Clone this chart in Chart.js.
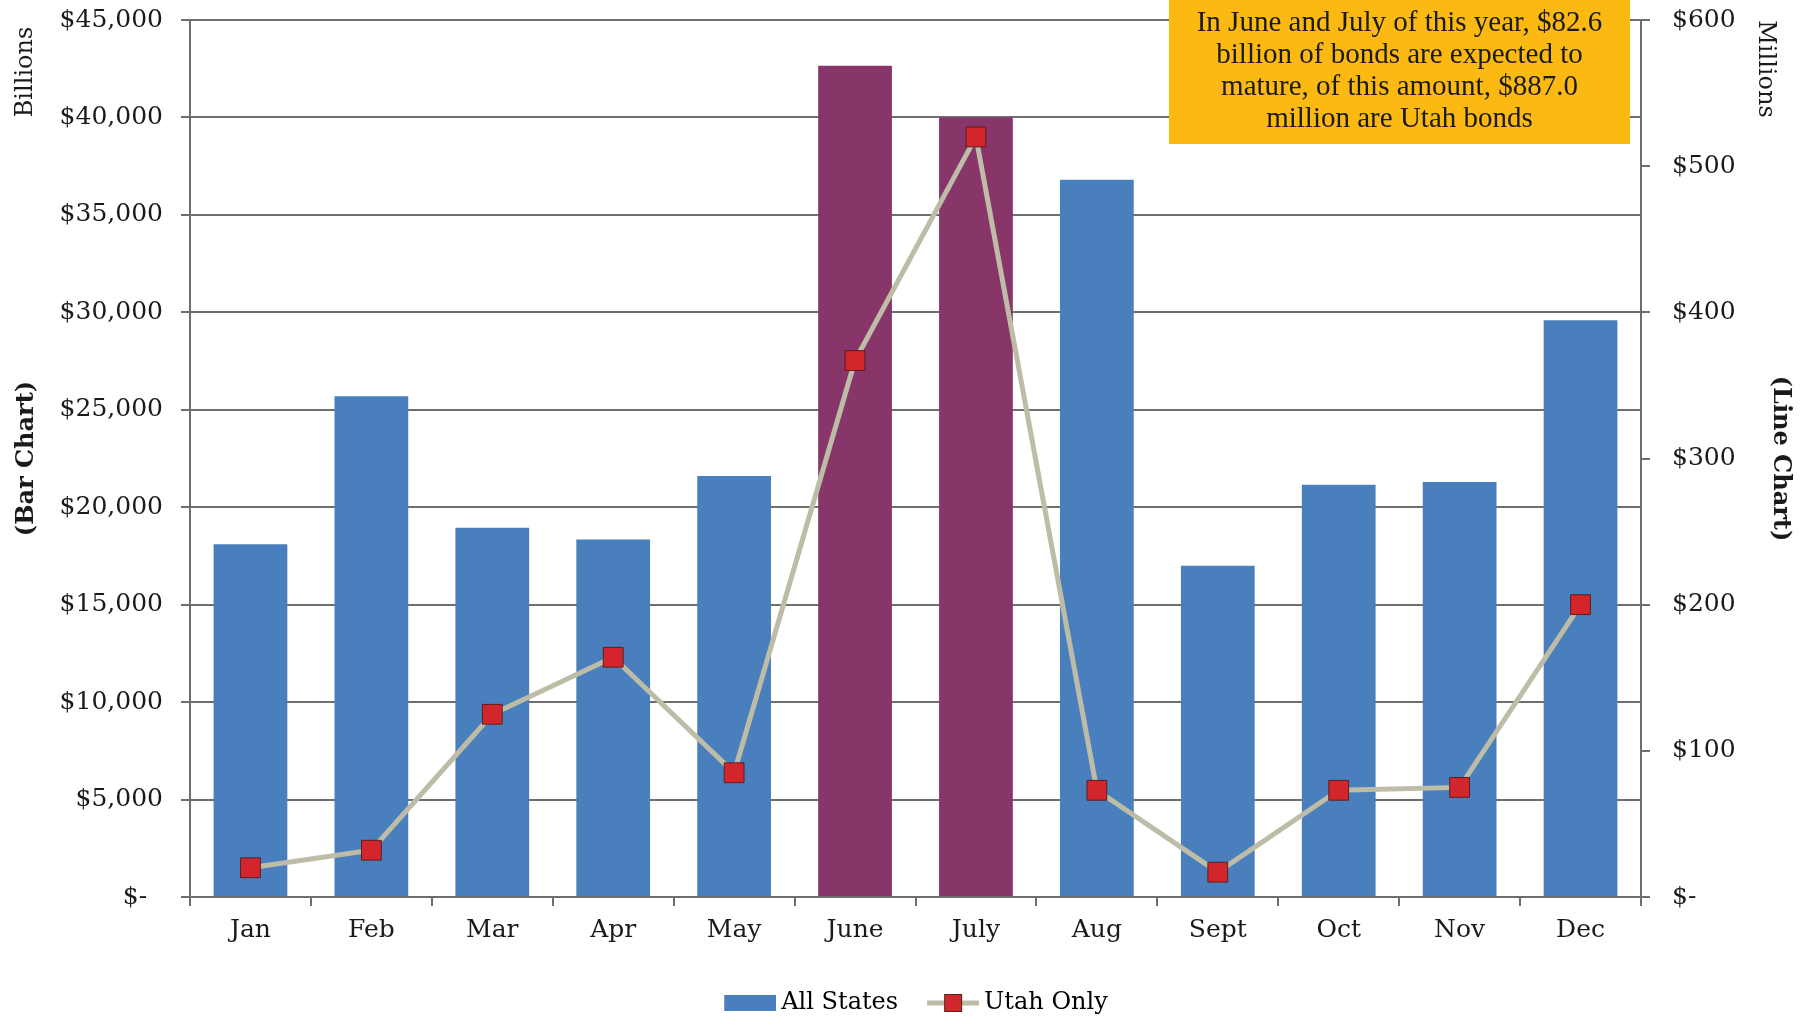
<!DOCTYPE html>
<html>
<head>
<meta charset="utf-8">
<title>Bond maturities by month</title>
<script src="https://cdn.jsdelivr.net/npm/chart.js@4/dist/chart.umd.min.js"></script>
<style>
  html, body { margin: 0; padding: 0; background: #fff; }
  #wrap { width: 1809px; height: 1017px; }
</style>
</head>
<body>
<div id="wrap"><canvas id="bondChart"></canvas></div>
<script>
// data
const months = ['Jan', 'Feb', 'Mar', 'Apr', 'May', 'June', 'July', 'Aug', 'Sept', 'Oct', 'Nov', 'Dec'];
const allStates = [18100, 25700, 18950, 18350, 21600, 42650, 40000, 36800, 17000, 21150, 21300, 29600]; // billions
const utahOnly = [20, 32, 125, 164, 85, 367, 520, 73, 17, 73, 75, 200]; // millions
const highlighted = ['June', 'July'];
const billionsMax = 45000, billionsStep = 5000;
const millionsMax = 600, millionsStep = 100;
const noteLines = [
    'In June and July of this year, $82.6',
    'billion of bonds are expected to',
    'mature, of this amount, $887.0',
    'million are Utah bonds'
];

const BLUE = '#4a7fbe';
const PURPLE = '#883569';
const LINE = '#bdbca6';
const RED = '#d3262c';
const GRID = '#6e6e6e';
const TEXT = '#1a1a1a';
const SERIF = "'DejaVu Serif', serif";

// legend icons (drawn a bit off-centre so they sit close to their text)
function makeIcon(draw) {
    const c = document.createElement('canvas');
    c.width = 82; c.height = 20;
    draw(c.getContext('2d'));
    return c;
}
const barIcon = makeIcon(ctx => {
    ctx.fillStyle = BLUE;
    ctx.fillRect(30, 2, 52, 16);
});
const lineIcon = makeIcon(ctx => {
    ctx.strokeStyle = LINE;
    ctx.lineWidth = 5;
    ctx.beginPath(); ctx.moveTo(30, 10); ctx.lineTo(82, 10); ctx.stroke();
    ctx.fillStyle = RED;
    ctx.fillRect(47, 1, 18, 18);
    ctx.strokeStyle = '#5a1f1f';
    ctx.lineWidth = 1;
    ctx.strokeRect(47.5, 1.5, 17, 17);
});

function dollars(v) {
    return v === 0 ? '$-  ' : '$' + v.toLocaleString('en-US');
}

// y scales: fixed width, no extra top/bottom padding for labels
function fixWidth(w) {
    return (s) => {
        s.width = w;
        s.paddingTop = 0;
        s.paddingBottom = 0;
    };
}

// extra axis words + the yellow note box
const extrasPlugin = {
    id: 'extras',
    afterDraw(chart) {
        const { ctx, chartArea } = chart;
        ctx.save();
        ctx.fillStyle = TEXT;
        ctx.font = '24px ' + SERIF;
        ctx.textAlign = 'center';
        ctx.textBaseline = 'middle';
        ctx.save();
        ctx.translate(26, 72);
        ctx.rotate(-Math.PI / 2);
        ctx.fillText('Billions', 0, 0);
        ctx.restore();
        ctx.save();
        ctx.translate(1765, 69);
        ctx.rotate(Math.PI / 2);
        ctx.fillText('Millions', 0, 0);
        ctx.restore();

        // note box
        const bx = chartArea.right - 472, bw = 461;
        const by = 0, bh = chartArea.top + 124;
        ctx.fillStyle = '#fbb912';
        ctx.fillRect(bx, by, bw, bh);
        ctx.fillStyle = TEXT;
        ctx.font = "29px 'Liberation Serif', serif";
        noteLines.forEach((line, i) => {
            ctx.fillText(line, bx + bw / 2, 23 + i * 32);
        });
        ctx.restore();
    }
};

const ctx = document.getElementById('bondChart').getContext('2d');
new Chart(ctx, {
    type: 'bar',
    data: {
        labels: months,
        datasets: [
            {
                type: 'bar',
                label: 'All States',
                data: allStates,
                yAxisID: 'y',
                backgroundColor: months.map(m => highlighted.includes(m) ? PURPLE : BLUE),
                barPercentage: 0.61,
                categoryPercentage: 1,
                order: 2
            },
            {
                type: 'line',
                label: 'Utah Only',
                data: utahOnly,
                yAxisID: 'y1',
                borderColor: LINE,
                borderWidth: 5,
                pointStyle: 'rect',
                pointRadius: 14,
                pointBackgroundColor: RED,
                pointBorderColor: '#5a1f1f',
                pointBorderWidth: 1,
                tension: 0,
                order: 1
            }
        ]
    },
    options: {
        responsive: true,
        maintainAspectRatio: false,
        animation: false,
        layout: { padding: { top: 20, left: 0, right: 0, bottom: -8 } },
        plugins: {
            tooltip: { enabled: false },
            legend: {
                position: 'bottom',
                labels: {
                    usePointStyle: true,
                    pointStyleWidth: 68,
                    boxHeight: 20,
                    padding: 6,
                    color: TEXT,
                    font: { family: SERIF, size: 24 },
                    generateLabels: (chart) => chart.data.datasets.map((ds, i) => ({
                        text: ds.label,
                        datasetIndex: i,
                        pointStyle: i === 0 ? barIcon : lineIcon,
                        fillStyle: 'transparent',
                        strokeStyle: 'transparent',
                        lineWidth: 0,
                        hidden: false
                    }))
                }
            }
        },
        scales: {
            x: {
                offset: true,
                grid: { drawOnChartArea: false, color: GRID, lineWidth: 2, tickLength: 9 },
                border: { color: GRID, width: 2 },
                ticks: { color: TEXT, font: { family: SERIF, size: 25 }, padding: 9 },
                afterFit: (s) => { s.height = 88; }
            },
            y: {
                position: 'left',
                min: 0,
                max: billionsMax,
                ticks: {
                    stepSize: billionsStep,
                    color: TEXT,
                    font: { family: SERIF, size: 25 },
                    padding: 18,
                    callback: (v) => dollars(v)
                },
                grid: { color: GRID, lineWidth: 2, tickLength: 9 },
                border: { color: GRID, width: 2 },
                title: {
                    display: true,
                    text: '(Bar Chart)',
                    color: TEXT,
                    font: { family: SERIF, size: 24, weight: 'bold' },
                    padding: { top: 12, bottom: 0 }
                },
                afterFit: fixWidth(190)
            },
            y1: {
                position: 'right',
                min: 0,
                max: millionsMax,
                ticks: {
                    stepSize: millionsStep,
                    color: TEXT,
                    font: { family: SERIF, size: 25 },
                    padding: 22,
                    callback: (v) => v === 0 ? '$-' : '$' + v
                },
                grid: { drawOnChartArea: false, color: GRID, lineWidth: 2, tickLength: 9 },
                border: { color: GRID, width: 2 },
                title: {
                    display: true,
                    text: '(Line Chart)',
                    color: TEXT,
                    font: { family: SERIF, size: 24, weight: 'bold' },
                    padding: { top: 14, bottom: 0 }
                },
                afterFit: fixWidth(168)
            }
        }
    },
    plugins: [extrasPlugin]
});
</script>
</body>
</html>
